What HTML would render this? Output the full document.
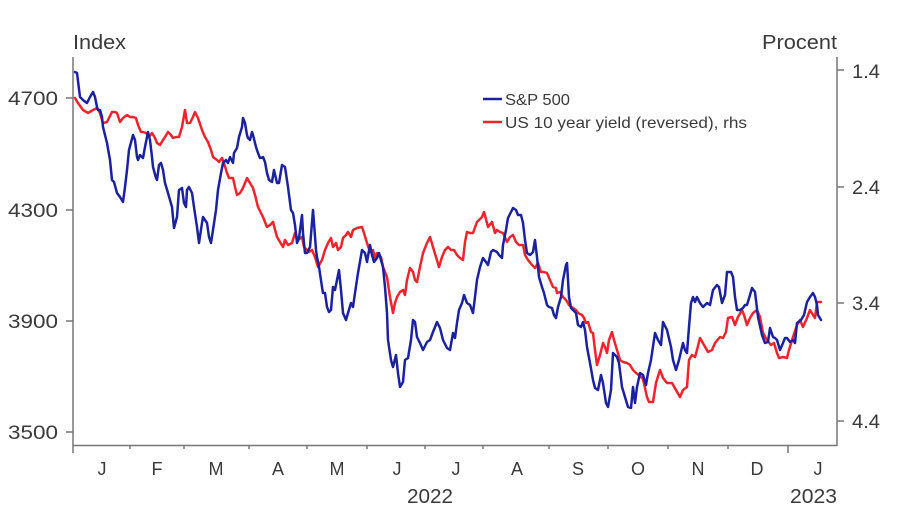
<!DOCTYPE html>
<html><head><meta charset="utf-8"><style>
html,body{margin:0;padding:0;background:#fff;}
svg{display:block;}
text{font-family:"Liberation Sans",sans-serif;fill:#3a3a3a;}
</style></head><body>
<svg width="900" height="510" viewBox="0 0 900 510" xmlns="http://www.w3.org/2000/svg">
<rect width="900" height="510" fill="#fff"/>
<!-- axes -->
<g stroke="#777" stroke-width="1.5" fill="none">
<line x1="73" y1="57" x2="73" y2="446"/>
<line x1="837" y1="57" x2="837" y2="446"/>
<line x1="73" y1="445.5" x2="837" y2="445.5"/>
<line x1="66" y1="98" x2="73" y2="98"/>
<line x1="66" y1="210" x2="73" y2="210"/>
<line x1="66" y1="321" x2="73" y2="321"/>
<line x1="66" y1="432" x2="73" y2="432"/>
<line x1="837" y1="70" x2="844" y2="70"/>
<line x1="837" y1="187" x2="844" y2="187"/>
<line x1="837" y1="303" x2="844" y2="303"/>
<line x1="837" y1="421" x2="844" y2="421"/>
<line x1="73" y1="446" x2="73" y2="453"/>
<line x1="130" y1="446" x2="130" y2="449"/>
<line x1="184" y1="446" x2="184" y2="449"/>
<line x1="249" y1="446" x2="249" y2="449"/>
<line x1="307" y1="446" x2="307" y2="449"/>
<line x1="367" y1="446" x2="367" y2="449"/>
<line x1="425" y1="446" x2="425" y2="449"/>
<line x1="483" y1="446" x2="483" y2="449"/>
<line x1="549" y1="446" x2="549" y2="449"/>
<line x1="608" y1="446" x2="608" y2="449"/>
<line x1="668" y1="446" x2="668" y2="449"/>
<line x1="728" y1="446" x2="728" y2="449"/>
<line x1="788" y1="446" x2="788" y2="453"/>
</g>
<!-- axis labels -->
<text x="73" y="49" font-size="20" textLength="53" lengthAdjust="spacingAndGlyphs">Index</text>
<text x="762" y="49" font-size="20" textLength="75" lengthAdjust="spacingAndGlyphs">Procent</text>
<g font-size="19">
<text x="8" y="105" textLength="50" lengthAdjust="spacingAndGlyphs">4700</text>
<text x="8" y="217" textLength="50" lengthAdjust="spacingAndGlyphs">4300</text>
<text x="8" y="328" textLength="50" lengthAdjust="spacingAndGlyphs">3900</text>
<text x="8" y="439" textLength="50" lengthAdjust="spacingAndGlyphs">3500</text>
<text x="852" y="78" textLength="28" lengthAdjust="spacingAndGlyphs">1.4</text>
<text x="852" y="194" textLength="28" lengthAdjust="spacingAndGlyphs">2.4</text>
<text x="852" y="310" textLength="28" lengthAdjust="spacingAndGlyphs">3.4</text>
<text x="852" y="428" textLength="28" lengthAdjust="spacingAndGlyphs">4.4</text>
</g>
<g font-size="18" text-anchor="middle">
<text x="102" y="475">J</text>
<text x="157" y="475">F</text>
<text x="216" y="475">M</text>
<text x="278" y="475">A</text>
<text x="337" y="475">M</text>
<text x="397" y="475">J</text>
<text x="456" y="475">J</text>
<text x="517" y="475">A</text>
<text x="578" y="475">S</text>
<text x="638" y="475">O</text>
<text x="698" y="475">N</text>
<text x="757" y="475">D</text>
<text x="818" y="475">J</text>
</g>
<text x="407" y="503" font-size="20" textLength="46" lengthAdjust="spacingAndGlyphs">2022</text>
<text x="790" y="503" font-size="20" textLength="47" lengthAdjust="spacingAndGlyphs">2023</text>
<!-- legend -->
<line x1="483" y1="99" x2="502" y2="99" stroke="#1a22a0" stroke-width="2.5"/>
<line x1="483" y1="122" x2="502" y2="122" stroke="#f0242a" stroke-width="2.5"/>
<text x="505" y="105" font-size="16" textLength="65" lengthAdjust="spacingAndGlyphs">S&amp;P 500</text>
<text x="505" y="128" font-size="16" textLength="242" lengthAdjust="spacingAndGlyphs">US 10 year yield (reversed), rhs</text>
<!-- series -->
<polyline fill="none" stroke="#f0242a" stroke-width="2.5" stroke-linejoin="round" stroke-linecap="round" points="75,98 78,103 83,110 88,113 93,110 97,108 100,113 102,120 103,123 107,122 109,118 112,112 115,112 117,113 120,122 123,118 127,115 130,117 133,117 136,118 138,125 141,132 143,132 146,133 149,137 152,133 155,138 157,143 160,145 163,140 165,137 168,132 171,135 173,138 176,137 179,137 182,127 185,110 187,123 190,123 193,117 195,112 198,118 202,130 205,137 208,142 211,150 213,157 217,160 219,162 222,158 224,163 227,173 229,178 233,178 235,187 237,195 240,193 243,188 247,178 250,183 253,188 255,195 258,207 263,217 267,227 270,225 273,222 277,237 280,242 283,247 285,240 288,245 292,243 295,233 298,240 302,237 304,247 307,250 309,252 312,250 315,257 318,267 322,260 325,250 328,243 331,238 333,247 336,243 338,250 341,247 343,238 346,235 348,232 351,237 353,230 357,228 362,227 364,233 367,243 370,252 373,250 375,258 377,253 381,257 383,267 387,277 390,297 393,313 395,303 397,297 400,292 403,290 405,295 407,280 410,268 413,272 415,280 417,282 420,267 423,253 427,243 430,237 433,247 436,257 439,267 442,257 445,250 448,247 451,250 454,250 457,255 460,258 463,260 465,242 467,232 470,233 473,233 477,222 479,220 482,217 484,212 487,223 488,227 492,222 495,233 497,230 500,232 503,233 507,242 510,237 513,235 516,242 519,245 523,245 525,255 528,260 532,265 535,268 538,263 541,272 544,272 547,273 550,280 553,287 556,288 557,293 560,292 563,297 566,300 569,305 573,308 576,310 578,313 582,315 584,318 586,323 588,322 591,332 593,333 595,350 597,365 600,355 603,343 605,347 607,353 609,340 612,332 614,340 617,350 620,360 623,362 627,363 630,365 633,370 636,373 640,376 643,379 647,397 649,402 653,402 656,383 660,370 663,378 667,383 672,383 676,390 680,397 683,390 687,387 689,360 692,355 695,357 697,350 700,338 704,345 708,352 712,350 715,343 720,337 723,338 726,332 728,318 732,317 735,325 738,317 742,310 744,315 747,325 750,318 753,313 757,310 760,317 763,333 767,340 771,345 774,343 777,353 779,358 783,357 787,358 789,350 793,337 797,325 800,320 803,327 807,318 810,310 813,315 815,318 817,302 821,302"/>
<polyline fill="none" stroke="#1a22a0" stroke-width="2.5" stroke-linejoin="round" stroke-linecap="round" points="75,72 77,73 80,97 83,100 87,103 90,97 93,92 95,97 97,107 98,110 100,110 102,117 103,127 107,143 110,160 112,180 114,182 117,193 120,197 123,202 125,187 127,170 129,150 133,135 135,140 137,157 138,160 140,155 143,158 145,147 148,132 150,140 152,157 153,167 156,178 157,180 159,165 161,163 163,170 165,183 168,193 172,207 174,228 177,217 179,190 182,188 184,203 186,207 187,190 189,187 192,193 194,207 197,227 199,243 202,223 203,217 207,223 209,237 211,243 213,230 216,210 218,190 221,173 223,163 226,160 228,163 230,157 233,163 234,153 237,148 239,137 242,127 243,118 245,123 247,135 248,138 250,140 252,132 253,135 256,147 258,153 260,158 263,157 265,162 267,173 269,180 272,182 274,170 277,183 279,183 282,165 285,167 288,187 291,210 293,213 295,225 297,243 299,238 302,215 303,233 305,253 307,253 310,247 313,210 314,223 316,250 317,257 319,267 322,287 323,293 325,293 327,307 329,312 331,310 333,287 335,290 337,280 339,270 341,290 343,313 346,320 348,313 351,303 353,307 355,293 358,273 362,250 365,253 367,262 370,245 372,255 374,262 377,258 379,253 381,260 383,267 385,287 387,313 388,340 391,360 393,367 396,355 398,373 400,387 403,382 405,360 408,358 411,340 413,320 415,322 417,337 420,343 423,350 427,342 430,340 433,332 437,322 440,328 443,340 447,348 450,350 453,333 455,338 457,323 459,310 462,303 464,295 467,303 470,305 473,313 475,297 477,280 480,267 483,258 486,262 488,265 491,252 493,250 497,252 499,255 502,258 503,245 506,230 508,218 511,212 513,208 516,210 518,215 521,215 523,223 525,240 527,253 530,255 533,252 535,240 537,257 539,277 542,287 544,293 547,305 549,307 552,308 554,315 556,318 558,307 561,297 563,280 566,265 567,263 569,297 571,308 573,310 576,313 578,325 581,327 583,322 585,330 587,347 590,363 593,380 595,388 598,390 601,375 603,383 606,403 608,407 611,390 613,353 617,357 619,363 622,387 625,397 628,407 631,408 633,387 635,403 637,387 640,373 643,375 646,385 648,373 651,360 655,333 658,340 661,345 663,322 667,330 671,347 673,360 676,370 679,360 683,343 685,350 687,353 689,327 691,303 693,297 695,302 697,297 700,303 703,307 707,303 710,305 713,290 717,285 719,287 722,303 725,295 727,272 731,272 733,277 735,297 737,310 740,310 743,308 745,305 747,305 750,295 752,288 755,292 758,317 762,335 765,343 768,342 770,328 773,337 775,338 777,340 780,350 783,343 785,338 787,338 790,342 793,340 795,343 797,323 801,320 804,315 807,302 810,297 813,293 815,297 817,305 818,315 821,320"/>
</svg>
</body></html>
